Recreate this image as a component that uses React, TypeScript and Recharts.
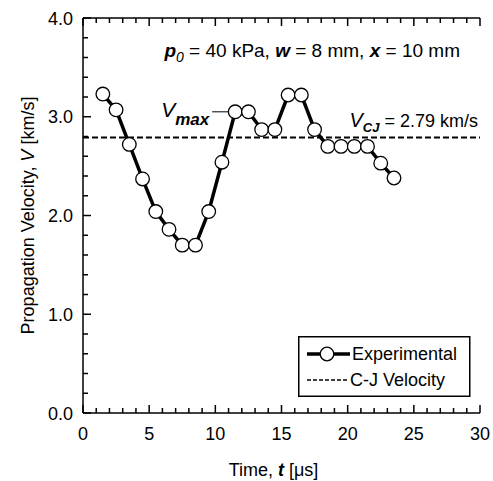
import React from "react";
import {
  ComposedChart,
  Line,
  XAxis,
  YAxis,
  ReferenceLine,
  Legend,
  LabelList,
} from "recharts";

// Measured propagation velocity vs. time, p0 = 40 kPa, w = 8 mm, x = 10 mm
const times = [
  1.5, 2.5, 3.5, 4.5, 5.5, 6.5, 7.5, 8.5, 9.5, 10.5, 11.5, 12.5, 13.5, 14.5, 15.5, 16.5,
  17.5, 18.5, 19.5, 20.5, 21.5, 22.5, 23.5,
];
const velocities = [
  3.23, 3.07, 2.72, 2.37, 2.04, 1.86, 1.7, 1.7, 2.04, 2.54, 3.05, 3.05, 2.87, 2.87, 3.22,
  3.22, 2.87, 2.7, 2.7, 2.7, 2.7, 2.53, 2.38,
];
const cjVelocity = 2.79;
const vmaxTime = 11.5;

const timeTicks = [
  0, 1, 2, 3, 4, 5, 6, 7, 8, 9, 10, 11, 12, 13, 14, 15, 16, 17, 18, 19, 20, 21, 22, 23, 24,
  25, 26, 27, 28, 29, 30,
];
const timeMajor = [0, 5, 10, 15, 20, 25, 30];
const velocityTicks = [
  0, 0.2, 0.4, 0.6, 0.8, 1, 1.2, 1.4, 1.6, 1.8, 2, 2.2, 2.4, 2.6, 2.8, 3, 3.2, 3.4, 3.6, 3.8, 4,
];
const velocityMajor = [0, 1, 2, 3, 4];

const seriesName = "Experimental";
const cjName = "C-J Velocity";

const FONT = "'Liberation Sans', Arial, sans-serif";
const MAJOR = 8;
const MINOR = 5;

const data = times.map((t, i) => ({ t, v: velocities[i] }));

function BottomTick({ x, y, payload }: any) {
  const major = timeMajor.includes(payload.value);
  return (
    <g>
      <line x1={x} x2={x} y1={y} y2={y - (major ? MAJOR : MINOR)} stroke="#000" strokeWidth={1.5} />
      {major && (
        <text x={x} y={y + 27} textAnchor="middle" fontSize={18} fontFamily={FONT} fill="#000">
          {payload.value}
        </text>
      )}
    </g>
  );
}

function TopTick({ x, y, payload }: any) {
  const major = timeMajor.includes(payload.value);
  return <line x1={x} x2={x} y1={y} y2={y + (major ? MAJOR : MINOR)} stroke="#000" strokeWidth={1.5} />;
}

function LeftTick({ x, y, payload }: any) {
  const major = velocityMajor.includes(payload.value);
  return (
    <g>
      <line x1={x} x2={x + (major ? MAJOR : MINOR)} y1={y} y2={y} stroke="#000" strokeWidth={1.5} />
      {major && (
        <text x={x - 10} y={y + 6.5} textAnchor="end" fontSize={18} fontFamily={FONT} fill="#000">
          {payload.value.toFixed(1)}
        </text>
      )}
    </g>
  );
}

function RightTick({ x, y, payload }: any) {
  const major = velocityMajor.includes(payload.value);
  return <line x1={x} x2={x - (major ? MAJOR : MINOR)} y1={y} y2={y} stroke="#000" strokeWidth={1.5} />;
}

function TimeTitle({ viewBox }: any) {
  const { x, y, width } = viewBox;
  return (
    <text x={x + width / 2 - 8} y={y + 63} textAnchor="middle" fontSize={18} fontFamily={FONT} fill="#000">
      Time, <tspan fontStyle="italic" fontWeight="bold">t</tspan> [μs]
    </text>
  );
}

function VelocityTitle({ viewBox }: any) {
  const { y, height } = viewBox;
  const cx = 34;
  const cy = y + height / 2;
  return (
    <text
      x={cx}
      y={cy}
      transform={`rotate(-90 ${cx} ${cy})`}
      textAnchor="middle"
      fontSize={18}
      fontFamily={FONT}
      fill="#000"
    >
      Propagation Velocity, <tspan fontStyle="italic">V</tspan> [km/s]
    </text>
  );
}

function ConditionsNote({ viewBox }: any) {
  const { x, y, width } = viewBox;
  return (
    <text x={x + width - 20} y={y + 40} textAnchor="end" fontSize={19} fontFamily={FONT} fill="#000">
      <tspan fontStyle="italic" fontWeight="bold">p</tspan>
      <tspan fontStyle="italic" fontSize={14} dy={5}>0</tspan>
      <tspan dy={-5}> = 40 kPa, </tspan>
      <tspan fontStyle="italic" fontWeight="bold">w</tspan>
      <tspan> = 8 mm, </tspan>
      <tspan fontStyle="italic" fontWeight="bold">x</tspan>
      <tspan> = 10 mm</tspan>
    </text>
  );
}

function CjNote({ viewBox }: any) {
  const { x, y, width } = viewBox;
  return (
    <text x={x + width - 2} y={y - 10} textAnchor="end" fontSize={18} fontFamily={FONT} fill="#000">
      <tspan fontStyle="italic" fontSize={20}>V</tspan>
      <tspan fontStyle="italic" fontWeight="bold" fontSize={13} dy={5}>CJ</tspan>
      <tspan dy={-5}> = {cjVelocity.toFixed(2)} km/s</tspan>
    </text>
  );
}

function VmaxNote(props: any) {
  const { x, y, index } = props;
  if (times[index] !== vmaxTime) return null;
  return (
    <g>
      <line x1={x - 23} x2={x - 7} y1={y} y2={y} stroke="#000" strokeWidth={1} />
      <text x={x - 26} y={y + 5} textAnchor="end" fontSize={21} fontFamily={FONT} fill="#000">
        <tspan fontStyle="italic">V</tspan>
        <tspan fontStyle="italic" fontWeight="bold" fontSize={17} dy={8}>max</tspan>
      </text>
    </g>
  );
}

function LegendBox() {
  return (
    <svg width={174} height={62} style={{ display: "block" }}>
      <rect x={0.75} y={0.75} width={171} height={59.5} fill="#fff" stroke="#000" strokeWidth={1.5} />
      <line x1={9} x2={52} y1={18} y2={18} stroke="#000" strokeWidth={3.5} />
      <circle cx={29} cy={18} r={6.8} fill="#fff" stroke="#000" strokeWidth={1.3} />
      <text x={54} y={24} fontSize={18} fontFamily={FONT} fill="#000">
        {seriesName}
      </text>
      <line x1={9} x2={50} y1={44} y2={44} stroke="#000" strokeWidth={1.5} strokeDasharray="4 2" />
      <text x={52} y={50} fontSize={18} fontFamily={FONT} fill="#000">
        {cjName}
      </text>
    </svg>
  );
}

export default function App() {
  return (
    <div style={{ position: "absolute", left: 0, top: 0, width: 493, height: 481, background: "#fff", fontFamily: FONT }}>
      <ComposedChart width={493} height={481} data={data} margin={{ top: 17, right: 13, bottom: 0, left: 0 }}>
        <XAxis
          dataKey="t"
          type="number"
          domain={[0, 30]}
          ticks={timeTicks}
          interval={0}
          height={68}
          tickSize={0}
          tickMargin={0}
          tickLine={false}
          axisLine={{ stroke: "#000", strokeWidth: 1.5 }}
          tick={BottomTick}
          label={TimeTitle}
        />
        <XAxis
          xAxisId="top"
          dataKey="t"
          orientation="top"
          type="number"
          domain={[0, 30]}
          ticks={timeTicks}
          interval={0}
          height={1}
          tickSize={0}
          tickMargin={0}
          tickLine={false}
          axisLine={{ stroke: "#000", strokeWidth: 1.5 }}
          tick={TopTick}
          label={ConditionsNote}
        />
        <YAxis
          type="number"
          domain={[0, 4]}
          ticks={velocityTicks}
          interval={0}
          width={83}
          tickSize={0}
          tickMargin={0}
          tickLine={false}
          axisLine={{ stroke: "#000", strokeWidth: 1.5 }}
          tick={LeftTick}
          label={VelocityTitle}
        />
        <YAxis
          yAxisId="right"
          orientation="right"
          type="number"
          domain={[0, 4]}
          ticks={velocityTicks}
          interval={0}
          width={0}
          tickSize={0}
          tickMargin={0}
          tickLine={false}
          axisLine={{ stroke: "#000", strokeWidth: 1.5 }}
          tick={RightTick}
        />
        <ReferenceLine
          y={cjVelocity}
          stroke="#000"
          strokeWidth={2}
          strokeDasharray="6 3"
          label={CjNote}
        />
        <Line
          dataKey="v"
          type="linear"
          stroke="#000"
          strokeWidth={3.5}
          dot={{ r: 6.8, fill: "#fff", stroke: "#000", strokeWidth: 1.3 }}
          activeDot={false}
          isAnimationActive={false}
        >
          <LabelList dataKey="v" content={VmaxNote} />
        </Line>
        <Legend
          layout="vertical"
          align="center"
          verticalAlign="middle"
          wrapperStyle={{ left: 298, top: 336, width: 174, height: 62 }}
          content={LegendBox}
        />
      </ComposedChart>
    </div>
  );
}
